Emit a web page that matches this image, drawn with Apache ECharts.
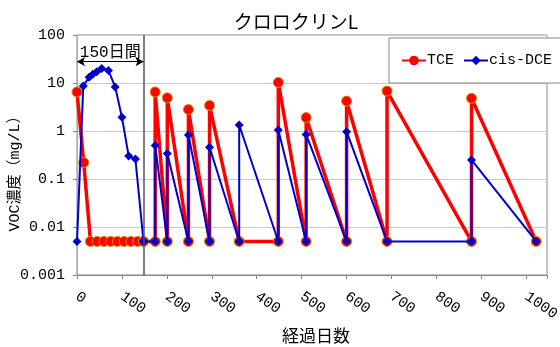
<!DOCTYPE html>
<html>
<head>
<meta charset="utf-8">
<script src="https://cdn.jsdelivr.net/npm/echarts@6/dist/echarts.min.js"></script>
<style>html,body{margin:0;padding:0;background:#fff}#c{width:560px;height:347px}</style>
</head>
<body>
<div id="c"></div>
<script>
const titleText = 'クロロクリンL';
const xName = '経過日数';
const yName = 'VOC濃度（mg/L）';
const seriesNames = ['TCE', 'cis-DCE'];
const yTickLabels = ['0.001', '0.01', '0.1', '1', '10', '100'];
const periodLabel = '150日間';
const periodStart = 0;
const periodEnd = 148;
const periodArrowY = 27.8;

const tceDays = [0, 15, 30, 45, 60, 75, 90, 105, 120, 135, 148, 174, 174, 201, 201, 248, 248, 295, 295, 361, 448, 448, 510, 510, 600, 600, 690, 690, 878, 878, 1022];
const tceValues = [6.5, 0.22, 0.005, 0.005, 0.005, 0.005, 0.005, 0.005, 0.005, 0.005, 0.005, 0.005, 6.5, 0.005, 4.9, 0.005, 2.8, 0.005, 3.4, 0.005, 0.005, 10.3, 0.005, 1.9, 0.005, 4.2, 0.005, 6.8, 0.005, 4.8, 0.005];

const dceDays = [0, 14, 27, 35, 44, 55, 70, 85, 100, 115, 130, 148, 174, 174, 201, 201, 248, 248, 295, 295, 361, 361, 448, 448, 510, 510, 600, 600, 690, 878, 878, 1022];
const dceValues = [0.005, 8.7, 13.2, 15.2, 17.2, 20, 18.2, 8.3, 1.93, 0.3, 0.26, 0.005, 0.005, 0.5, 0.005, 0.34, 0.005, 0.83, 0.005, 0.46, 0.005, 1.33, 0.005, 1.05, 0.005, 0.85, 0.005, 0.97, 0.005, 0.005, 0.25, 0.005];

const zip = (a, b) => a.map((d, i) => [d, b[i]]);
const monoCJK = "'Liberation Mono','Noto Sans CJK JP'";

const chart = echarts.init(document.getElementById('c'), null, {renderer: 'canvas'});
chart.setOption({
  animation: false,
  backgroundColor: '#fff',
  title: {
    text: titleText, left: 291, top: 7, textAlign: 'center',
    textStyle: {fontFamily: "'Noto Sans CJK JP'", fontSize: 19, fontWeight: 'normal', color: '#000'}
  },
  legend: {
    left: 389, top: 38, width: 175, orient: 'horizontal',
    padding: [15, 30, 15, 12],
    backgroundColor: '#fff', borderColor: '#888', borderWidth: 1,
    itemWidth: 24, itemHeight: 12, itemGap: 9,
    itemStyle: {borderWidth: 0},
    textStyle: {fontFamily: "'Liberation Mono'", fontSize: 15, color: '#000', padding: [0, 0, 0, -4]},
    data: seriesNames
  },
  grid: {left: 77, top: 35, right: 13, bottom: 72, show: true, borderColor: '#888', borderWidth: 1,
         containLabel: false, outerBoundsMode: 'none'},
  xAxis: {
    type: 'value', min: 0, max: 1046, interval: 100,
    name: xName, nameLocation: 'middle', nameGap: 52, nameMoveOverlap: false,
    nameTextStyle: {fontFamily: "'Noto Sans CJK JP'", fontSize: 17, color: '#000', padding: [0, 0, 0, 8]},
    axisLine: {show: true, lineStyle: {color: '#888'}},
    axisTick: {show: true, length: 4, lineStyle: {color: '#888'}},
    splitLine: {show: false},
    axisLabel: {
      rotate: -35, margin: 20,
      fontFamily: "'Liberation Mono'", fontSize: 15, color: '#000',
      formatter: v => (v % 100 === 0 ? String(v) : '')
    }
  },
  yAxis: {
    type: 'log', logBase: 10, min: 0.001, max: 100,
    name: yName, nameLocation: 'middle', nameGap: 54, nameRotate: 90, nameMoveOverlap: false,
    nameTextStyle: {fontFamily: monoCJK, fontSize: 15, color: '#000', padding: [0, 30, 0, 0]},
    axisLine: {show: true, lineStyle: {color: '#aaa'}},
    axisTick: {show: true, length: 4, lineStyle: {color: '#888'}},
    splitLine: {show: true, lineStyle: {color: '#c8c8c8', width: 1}},
    axisLabel: {
      margin: 12, fontFamily: "'Liberation Mono'", fontSize: 15, color: '#000',
      formatter: v => yTickLabels[Math.round(Math.log10(v)) + 3]
    }
  },
  series: [
    {
      name: seriesNames[0], type: 'line', data: zip(tceDays, tceValues),
      symbol: 'circle', symbolSize: 10,
      lineStyle: {color: '#ff0000', width: 3.5},
      itemStyle: {color: '#ff0000', borderColor: '#d09000', borderWidth: 1},
      z: 2,
      markLine: {
        silent: true, animation: false,
        symbol: ['none', 'none'],
        data: [
          {
            xAxis: periodEnd,
            lineStyle: {color: '#555', width: 1.5, type: 'solid'},
            label: {show: false}
          },
          [
            {coord: [periodStart, periodArrowY], symbol: 'arrow', symbolSize: [7, 8]},
            {coord: [periodEnd, periodArrowY], symbol: 'arrow', symbolSize: [7, 8],
             lineStyle: {color: '#000', width: 1, type: 'solid'},
             label: {show: true, position: 'middle', formatter: periodLabel, distance: 1,
                     fontFamily: monoCJK, fontSize: 16, color: '#000'}}
          ]
        ],
        lineStyle: {color: '#000', width: 1, type: 'solid'}
      }
    },
    {
      name: seriesNames[1], type: 'line', data: zip(dceDays, dceValues),
      symbol: 'diamond', symbolSize: 9,
      lineStyle: {color: '#0000cc', width: 2},
      itemStyle: {color: '#0000cc'},
      z: 3
    }
  ]
});
</script>
</body>
</html>
